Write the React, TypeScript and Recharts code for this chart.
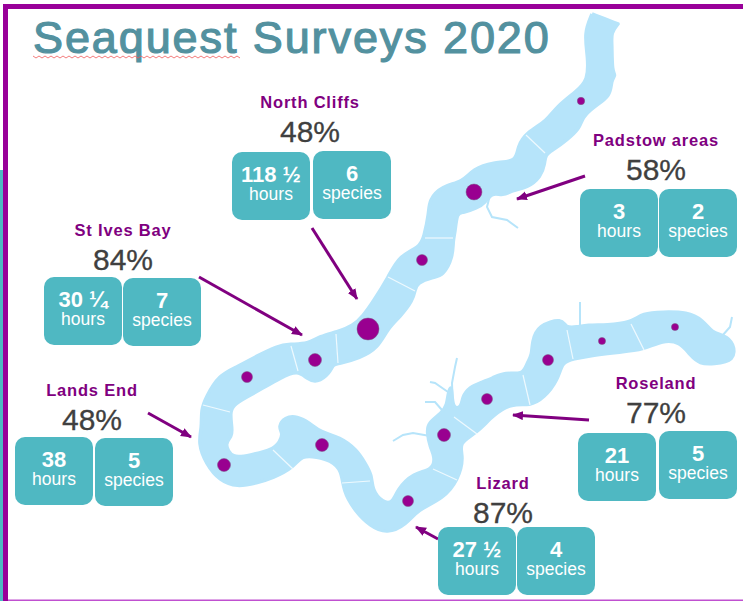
import { ScatterChart, Scatter, XAxis, YAxis, ZAxis, ReferenceArea } from 'recharts';

const PURPLE = '#800080';
const TEAL = '#4fb8c2';
const RIVER = '#b6e4fa';

// Survey areas
const areaNames = ['North Cliffs', 'St Ives Bay', 'Lands End', 'Padstow areas', 'Roseland', 'Lizard'];
const areaPercents = ['48%', '84%', '48%', '58%', '77%', '87%'];
const areaHours = ['118 ½', '30 ¼', '38', '3', '21', '27 ½'];
const areaSpecies = ['6', '7', '5', '2', '5', '4'];

// Where each area's label block sits on the map
const labelX = [310, 123, 92, 656, 656, 503];
const labelY = [102, 230, 390, 140, 383, 483];
const hoursCardX = [232, 44, 15, 580, 578, 438];
const hoursCardY = [152, 277, 437, 189, 433, 527];
const speciesCardX = [313, 123, 95, 659, 659, 517];
const speciesCardY = [151, 278, 438, 189, 431, 527];

// Survey dots along the coast
const dotX = [581, 474, 422, 368, 315, 247, 224, 322, 408, 444, 487, 548, 602, 675];
const dotY = [101, 192, 260, 329, 360, 377, 465, 445, 501, 435, 399, 360, 341, 327];
const dotEffort = [43, 200, 95, 380, 133, 95, 133, 133, 95, 133, 95, 95, 40, 40];

// Coast outline, traced from the top end clockwise (repeated points keep the corners sharp)
const riverOutline = [
  [592, 14], [592, 14], [592, 14], [618, 24], [618, 24], [618, 24], [611, 33], [612, 43], [612, 72], [616, 75], [611, 80],
  [611, 96], [593, 107], [582, 118], [580, 128], [567, 140], [553, 150], [545, 155], [545, 163], [541, 177], [527, 188],
  [513, 190], [503, 196], [492, 192], [485, 203], [477, 208], [463, 213], [457, 212], [455, 233], [453, 240], [453, 257],
  [443, 276], [433, 277], [417, 283], [415, 290], [413, 300], [400, 317], [388, 328], [378, 348], [360, 358], [338, 364],
  [333, 364], [330, 373], [317, 383], [307, 379], [298, 370], [280, 378], [263, 388], [247, 397], [233, 405], [230, 413],
  [232, 428], [232, 437], [224, 443], [232, 459], [250, 455], [272, 450], [280, 442], [283, 433], [278, 427], [285, 417],
  [297, 416], [310, 423], [320, 432], [340, 437], [357, 450], [365, 463], [372, 475], [372, 490], [383, 503], [393, 503],
  [397, 490], [413, 473], [433, 470], [435, 457], [430, 447], [427, 432], [428, 423], [442, 413], [447, 405], [448, 393],
  [452, 383], [452, 410], [462, 407], [462, 397], [470, 387], [480, 383], [493, 378], [505, 372], [523, 375], [527, 363],
  [532, 355], [532, 342], [538, 325], [563, 318], [565, 328], [577, 327], [587, 325], [607, 325], [630, 323], [643, 313],
  [663, 312], [687, 312], [703, 320], [712, 333], [724, 335], [734, 343], [735, 361], [713, 364], [700, 364], [690, 355],
  [680, 342], [663, 340], [643, 350], [620, 352], [593, 355], [573, 359], [562, 362], [558, 380], [544, 398], [530, 406],
  [512, 403], [493, 415], [477, 433], [458, 443], [464, 457], [458, 480], [444, 498], [417, 510], [407, 524], [387, 534],
  [370, 526], [355, 511], [343, 491], [342, 470], [330, 460], [317, 457], [302, 455], [293, 468], [273, 478], [257, 483],
  [237, 487], [220, 481], [206, 464], [198, 443], [202, 427], [201, 410], [206, 397], [219, 375], [237, 367], [257, 356],
  [277, 346], [290, 344], [308, 344], [320, 336], [337, 332], [353, 326], [363, 316], [373, 302], [389, 276], [399, 256],
  [420, 247], [424, 237], [429, 213], [429, 200], [442, 186], [463, 182], [473, 169], [493, 162], [517, 162], [517, 147],
  [527, 132], [547, 121], [556, 107], [577, 91], [588, 80], [588, 57], [584, 33],
];

// Thin creeks running off the coast
const creekLines = [
  [[490, 195], [487, 207], [492, 217], [507, 220], [518, 228]],
  [[430, 436], [413, 433], [403, 435], [393, 441]],
  [[442, 410], [435, 402], [425, 402]],
  [[448, 392], [435, 383], [430, 382]],
  [[453, 410], [452, 383], [455, 367], [457, 358]],
  [[580, 326], [580, 302]],
  [[722, 336], [730, 327], [732, 317]],
];

// White lines between the coastal sections
const sectionLines = [
  [[526, 135], [545, 153]], [[425, 238], [453, 238]], [[388, 277], [415, 291]], [[336, 334], [338, 363]],
  [[291, 346], [298, 371]], [[203, 405], [230, 412]], [[273, 450], [293, 469]], [[342, 483], [370, 481]],
  [[433, 469], [457, 480]], [[454, 417], [477, 434]], [[523, 375], [530, 405]], [[567, 330], [573, 359]],
  [[631, 324], [644, 350]],
];

// Arrows from label block to coast
const arrowLines = [
  [[312, 228], [357, 299]], [[199, 277], [302, 335]], [[148, 413], [191, 437]],
  [[585, 176], [517, 199]], [[589, 420], [513, 415]], [[438, 539], [416, 527]],
];

const toPoints = (pairs: number[][]) => pairs.map(([x, y]) => ({ x, y }));

const dots = dotX.map((x, i) => ({ x, y: dotY[i], z: dotEffort[i] }));
const labels = areaNames.map((name, i) => ({ x: labelX[i], y: labelY[i], name, percent: areaPercents[i] }));
const cards = [
  ...areaHours.map((value, i) => ({ x: hoursCardX[i], y: hoursCardY[i], value, unit: 'hours' })),
  ...areaSpecies.map((value, i) => ({ x: speciesCardX[i], y: speciesCardY[i], value, unit: 'species' })),
];
const titlePoint = [{ x: 33, y: 53 }];

const font = '"Liberation Sans", Arial, sans-serif';
const noShape = () => <g />;

function LabelShape(props: any) {
  const { cx, cy, payload } = props;
  return (
    <g fontFamily={font} textAnchor="middle">
      <text x={cx} y={cy + 6} fontSize={16.5} fontWeight={700} letterSpacing={0.8} fill={PURPLE}>
        {payload.name}
      </text>
      <text x={cx} y={cy + 40} fontSize={30} fill="#404040" stroke="#404040" strokeWidth={0.3}>
        {payload.percent}
      </text>
    </g>
  );
}

function CardShape(props: any) {
  const { cx, cy, payload } = props;
  const w = 78;
  return (
    <g fontFamily={font} textAnchor="middle" fill="#fff">
      <rect x={cx} y={cy} width={w} height={68} rx={10} fill={TEAL} />
      <text x={cx + w / 2} y={cy + 30} fontSize={22} fontWeight={700}>{payload.value}</text>
      <text x={cx + w / 2} y={cy + 48} fontSize={17.5}>{payload.unit}</text>
    </g>
  );
}

function TitleShape(props: any) {
  const { cx, cy } = props;
  // spell-check squiggle under the first word
  let squiggle = `M${cx} ${cy + 3}`;
  for (let i = 1; i <= 69; i++) {
    squiggle += ` L${cx + i * 3} ${cy + 3 + (i % 2 ? 2 : 0)}`;
  }
  return (
    <g>
      <text x={cx} y={cy} fontFamily={font} fontSize={45} letterSpacing={1.9} fill="#53919f" stroke="#53919f" strokeWidth={1.2}>
        Seaquest Surveys 2020
      </text>
      <path d={squiggle} fill="none" stroke="#f05a5a" strokeWidth={0.8} />
    </g>
  );
}

export default function App() {
  return (
    <div style={{ position: 'absolute', left: 0, top: 0, width: 743, height: 601, overflow: 'hidden', background: '#fff' }}>
      <ScatterChart width={743} height={601} margin={{ top: 0, right: 0, bottom: 0, left: 0 }}>
        <defs>
          <marker id="arrowHead" markerUnits="userSpaceOnUse" markerWidth={12} markerHeight={10} refX={10} refY={4.5} orient="auto">
            <path d="M0 0 L11 4.5 L0 9 Z" fill={PURPLE} />
          </marker>
        </defs>
        <XAxis type="number" dataKey="x" domain={[0, 743]} hide />
        <YAxis type="number" dataKey="y" domain={[0, 601]} reversed hide />
        <ZAxis type="number" dataKey="z" domain={[0, 400]} range={[0, 400]} />

        {/* slide frame */}
        <ReferenceArea x1={3} x2={743} y1={4} y2={9} fill="#990099" fillOpacity={1} stroke="none" />
        <ReferenceArea x1={3} x2={8} y1={4} y2={601} fill="#990099" fillOpacity={1} stroke="none" />
        <ReferenceArea x1={0} x2={3} y1={170} y2={601} fill={TEAL} fillOpacity={1} stroke="none" />
        <ReferenceArea x1={8} x2={743} y1={599.5} y2={601} fill="#c050d0" fillOpacity={1} stroke="none" />

        {/* coast */}
        <Scatter
          data={toPoints(riverOutline)}
          line={{ fill: RIVER, stroke: RIVER, strokeWidth: 3.5, strokeLinejoin: 'round' }}
          lineJointType="basisClosed"
          shape={noShape}
          isAnimationActive={false}
        />
        {creekLines.map((seg, i) => (
          <Scatter
            key={`creek-${i}`}
            data={toPoints(seg)}
            line={{ stroke: RIVER, strokeWidth: 2 }}
            shape={noShape}
            isAnimationActive={false}
          />
        ))}
        {sectionLines.map((seg, i) => (
          <Scatter
            key={`section-${i}`}
            data={toPoints(seg)}
            line={{ stroke: '#eef9fe', strokeWidth: 1.2 }}
            shape={noShape}
            isAnimationActive={false}
          />
        ))}
        <Scatter data={dots} fill="#990090" stroke="#7a5a85" strokeWidth={0.5} isAnimationActive={false} />

        {arrowLines.map((seg, i) => (
          <Scatter
            key={`arrow-${i}`}
            data={toPoints(seg)}
            line={{ stroke: PURPLE, strokeWidth: 3, markerEnd: 'url(#arrowHead)' }}
            shape={noShape}
            isAnimationActive={false}
          />
        ))}

        <Scatter data={cards} shape={CardShape} isAnimationActive={false} />
        <Scatter data={labels} shape={LabelShape} isAnimationActive={false} />
        <Scatter data={titlePoint} shape={TitleShape} isAnimationActive={false} />
      </ScatterChart>
    </div>
  );
}
